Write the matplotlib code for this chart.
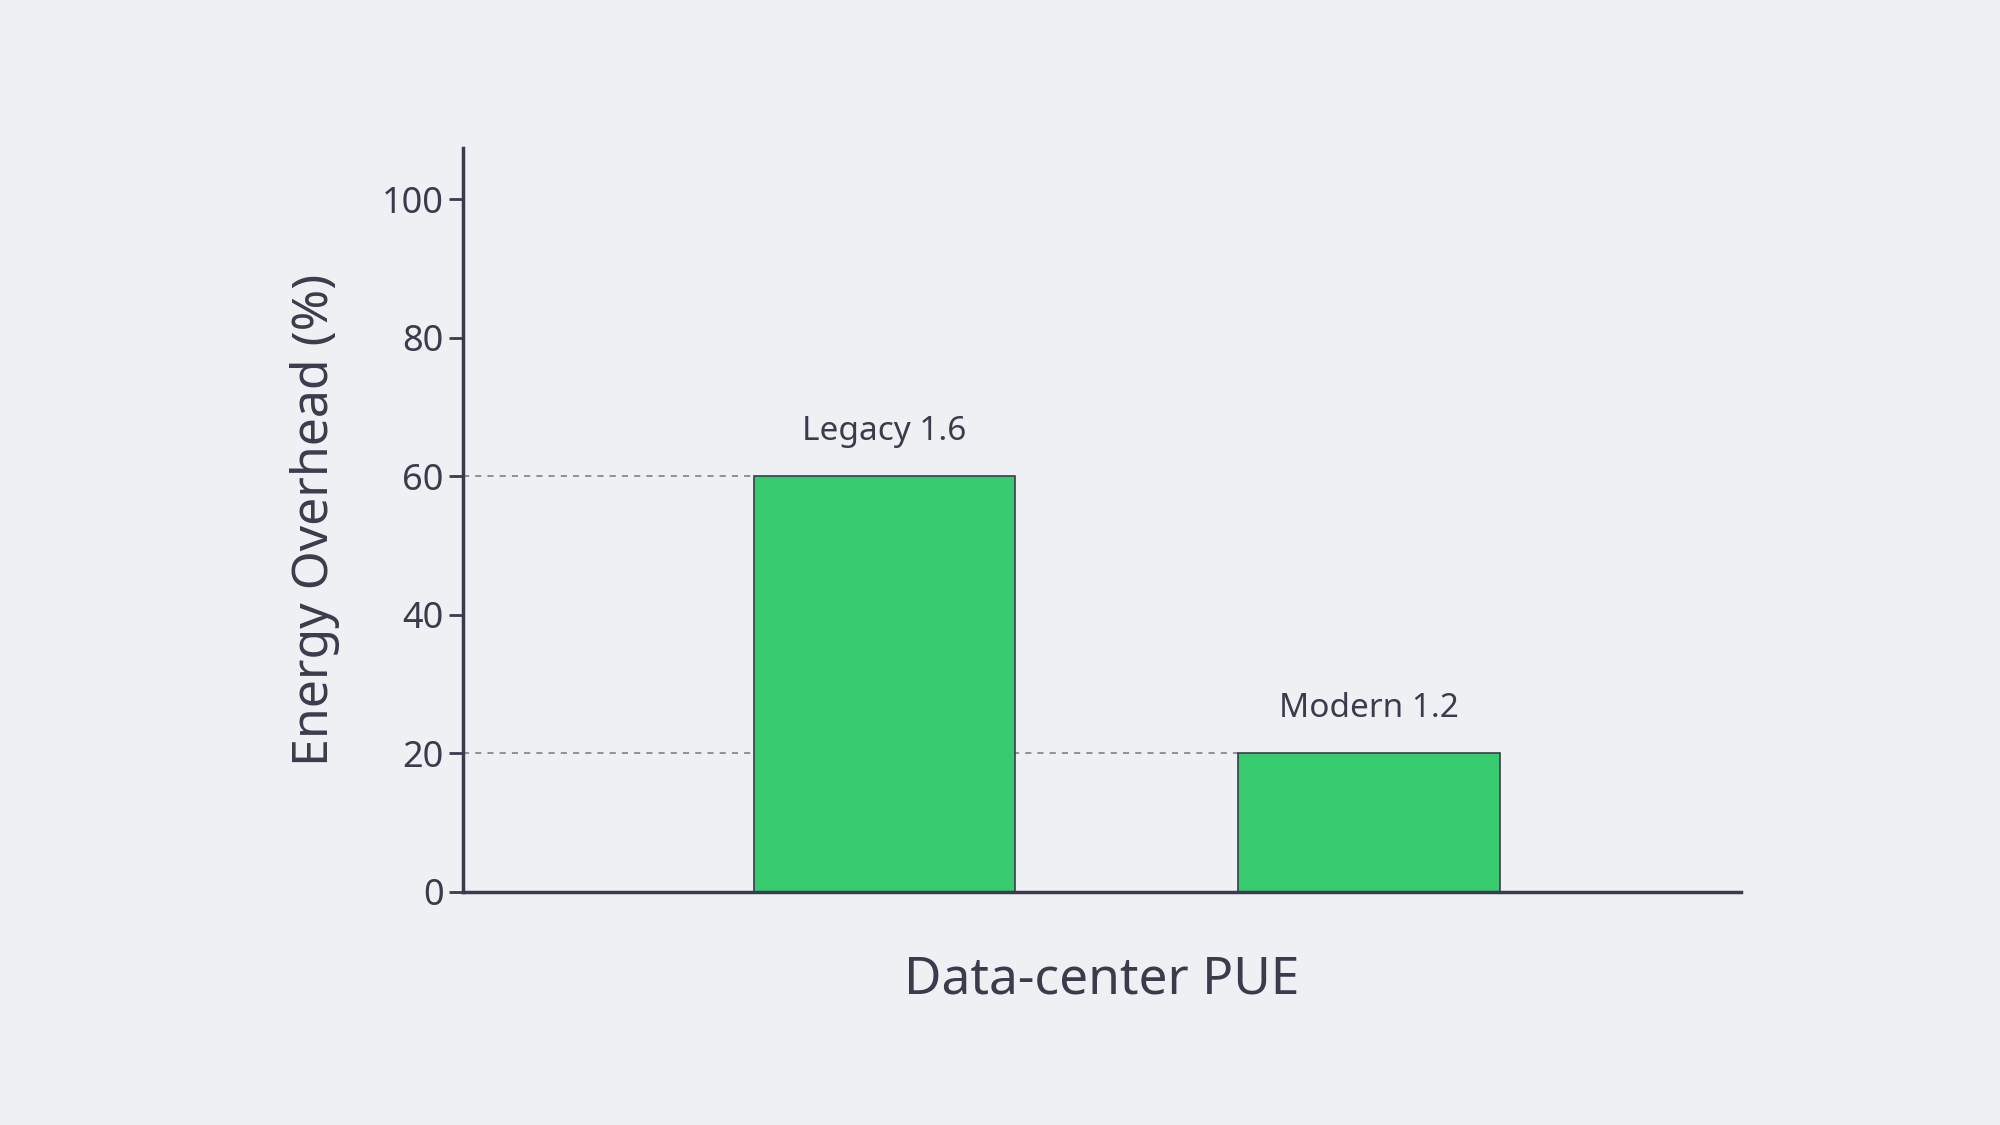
import matplotlib.pyplot as plt

categories = ["Legacy 1.6", "Modern 1.2"]
overhead = [60, 20]
yticks = [0, 20, 40, 60, 80, 100]

BG = "#eff0f4"
INK = "#3b3b4c"
plt.rcParams["font.family"] = ["Noto Sans", "DejaVu Sans"]

fig = plt.figure(figsize=(20, 11.25), dpi=100, facecolor=BG)
ax = fig.add_axes([0.2315, 0.2075, 0.639, 0.661], facecolor=BG)

x = list(range(len(categories)))
width = 0.54
ax.bar(x, overhead, width=width, color="#37ca6f", edgecolor=INK, linewidth=1.2, zorder=2)
for xi, v, lab in zip(x, overhead, categories):
    ax.plot([-0.87, xi - width / 2], [v, v], ls=(0, (4, 4)), color="#777777", lw=1.1, zorder=1)
    ax.text(xi, v + 4, lab, ha="center", va="bottom", fontsize=24, color=INK)

ax.set_xlim(-0.87, 1.767)
ax.set_ylim(0, 107.4)
ax.set_xticks([])
ax.set_yticks(yticks)
ax.tick_params(axis="y", labelsize=26, colors=INK, length=10, width=2, pad=4)
for s in ["top", "right"]:
    ax.spines[s].set_visible(False)
for s in ["left", "bottom"]:
    ax.spines[s].set_color(INK)
    ax.spines[s].set_linewidth(2.5)
ax.set_xlabel("Data-center PUE", fontsize=37, color=INK, labelpad=45)
ax.set_ylabel("Energy Overhead (%)", fontsize=36, color=INK, labelpad=30)

fig.savefig("out.png", facecolor=BG)
